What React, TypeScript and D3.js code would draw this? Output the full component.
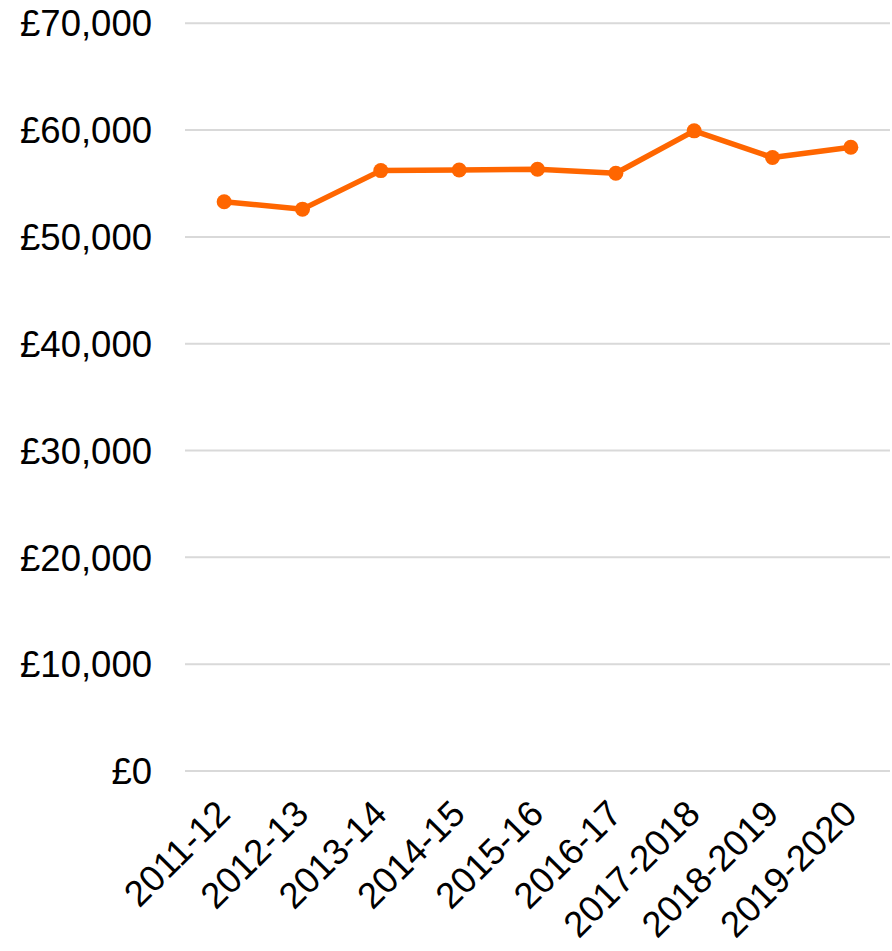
import React from "react";
import * as d3 from "d3";

const categories = ["2011-12", "2012-13", "2013-14", "2014-15", "2015-16", "2016-17", "2017-2018", "2018-2019", "2019-2020"];
const values = [53300, 52600, 56210, 56270, 56340, 55960, 59930, 57430, 58400];
const yTicks = [0, 10000, 20000, 30000, 40000, 50000, 60000, 70000];

const W = 892;
const H = 951;
const left = 185;
const right = 890;
const top = 23.3;
const bottom = 771;

export default function App() {
  const x = d3.scaleBand<string>().domain(categories).range([left, right]);
  const y = d3.scaleLinear().domain([0, 70000]).range([bottom, top]);
  const fmt = (v: number) => "£" + d3.format(",")(v);
  const line = d3
    .line<number>()
    .x((_, i) => (x(categories[i]) as number) + x.bandwidth() / 2)
    .y((d) => y(d));
  const font = "'Liberation Sans', Arial, sans-serif";
  return (
    <svg width={W} height={H} style={{ position: "absolute", left: 0, top: 0 }}>
      <rect width={W} height={H} fill="#fff" />
      {yTicks.map((t) => (
        <g key={t}>
          <line x1={left} x2={right} y1={y(t)} y2={y(t)} stroke="#d9d9d9" strokeWidth={2} />
          <text x={152} y={y(t)} dy="0.36em" textAnchor="end" fontFamily={font} fontSize={36.5} fill="#000">
            {fmt(t)}
          </text>
        </g>
      ))}
      {categories.map((c) => {
        const cx = (x(c) as number) + x.bandwidth() / 2;
        return (
          <text
            key={c}
            transform={`translate(${cx + 8},${bottom + 45}) rotate(-45)`}
            textAnchor="end"
            fontFamily={font}
            fontSize={36.5}
            fill="#000"
          >
            {c}
          </text>
        );
      })}
      <path d={line(values) || ""} fill="none" stroke="#FF6600" strokeWidth={5.5} strokeLinejoin="round" />
      {values.map((v, i) => (
        <circle key={i} cx={(x(categories[i]) as number) + x.bandwidth() / 2} cy={y(v)} r={7.5} fill="#FF6600" />
      ))}
    </svg>
  );
}
